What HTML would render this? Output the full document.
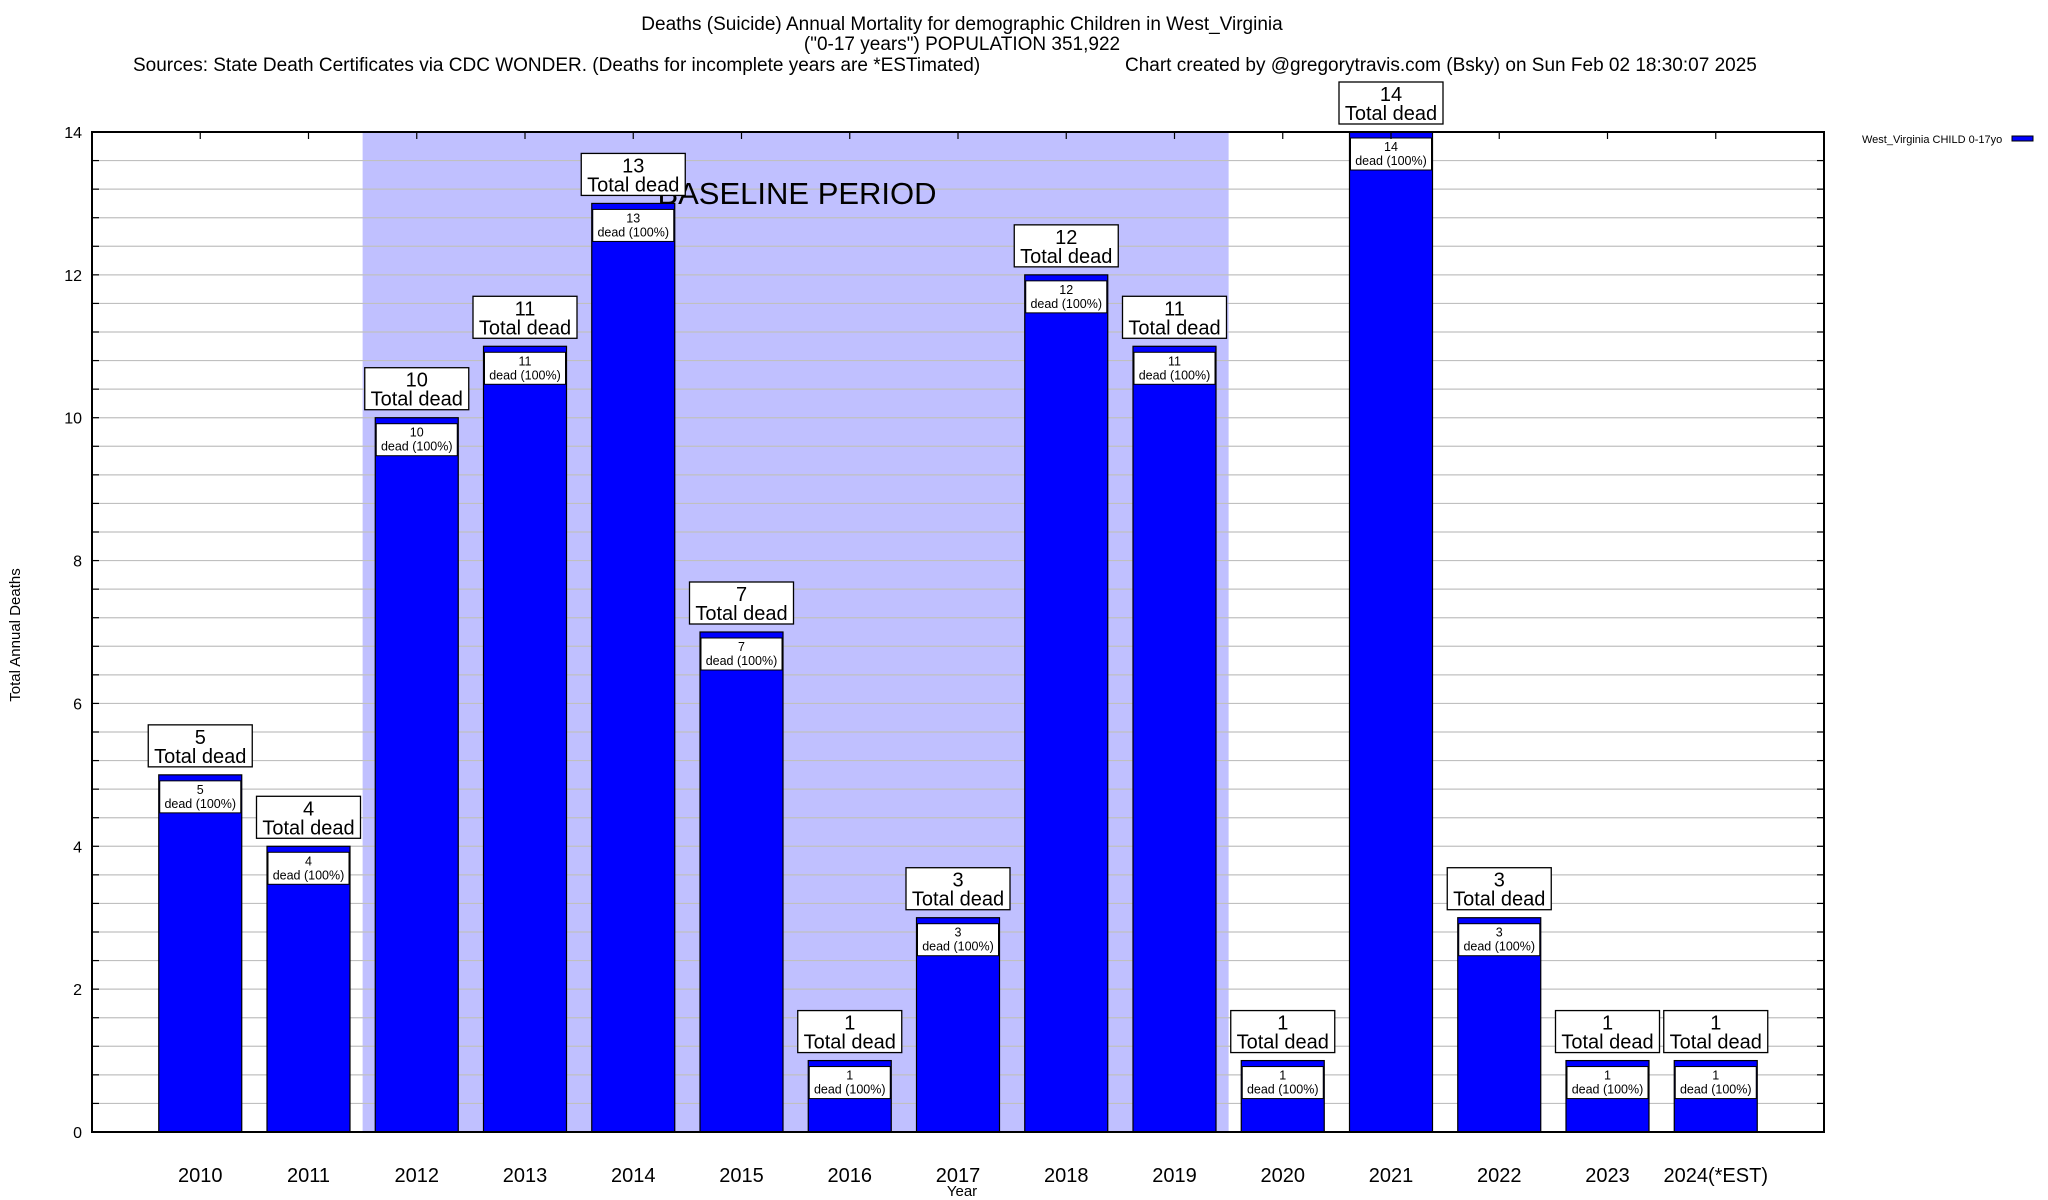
<!DOCTYPE html>
<html><head><meta charset="utf-8"><style>
body{margin:0;background:#fff;}
svg{display:block;font-family:"Liberation Sans",sans-serif;}
</style></head><body>
<svg id="chart" width="2048" height="1200" viewBox="0 0 2048 1200" xmlns="http://www.w3.org/2000/svg">
<g font-size="19" fill="#000">
<text x="962" y="30" text-anchor="middle">Deaths (Suicide) Annual Mortality for demographic Children in West_Virginia</text>
<text x="962" y="50" text-anchor="middle">("0-17 years") POPULATION 351,922</text>
<text x="133" y="71">Sources: State Death Certificates via CDC WONDER. (Deaths for incomplete years are *ESTimated)</text>
<text x="1125" y="71">Chart created by @gregorytravis.com (Bsky) on Sun Feb 02 18:30:07 2025</text>
</g>
<g id="plot"></g>
<text x="20" y="635" font-size="15" text-anchor="middle" transform="rotate(-90 20 635)">Total Annual Deaths</text>
<text x="962" y="1200" font-size="15" text-anchor="middle" dy="-4">Year</text>
<g>
<text x="1862" y="143" font-size="11">West_Virginia CHILD 0-17yo</text>
<rect x="2012" y="136" width="21" height="5" fill="#0000ff" stroke="#000" stroke-width="1"/>
</g>
</svg>
<script>
const categories = ["2010","2011","2012","2013","2014","2015","2016","2017","2018","2019","2020","2021","2022","2023","2024(*EST)"];
const deaths = [5,4,10,11,13,7,1,3,12,11,1,14,3,1,1];
const yTicks = [0,2,4,6,8,10,12,14];
const baselineStart = 1.5, baselineEnd = 9.5;

const L=92,R=1824,T=132,B=1132;
const xMin=-1,xMax=15,yMin=0,yMax=14;
const xs=v=>L+(v-xMin)/(xMax-xMin)*(R-L);
const ys=v=>B-(v-yMin)/(yMax-yMin)*(B-T);
const NS="http://www.w3.org/2000/svg";
const plot=document.getElementById('plot');
function mk(tag,attrs,parent){const e=document.createElementNS(NS,tag);for(const k in attrs)e.setAttribute(k,attrs[k]);(parent||plot).appendChild(e);return e;}

// baseline shade
let sh=mk('rect',{x:xs(baselineStart),y:T,width:xs(baselineEnd)-xs(baselineStart),height:B-T,fill:'#c0c0ff'});



// grid lines every 0.4
for(let i=1;i<35;i++){
  const v=i*0.4, y=ys(v);
  let g=mk('line',{x1:L,x2:R,y1:y,y2:y,stroke:'#c0c0c0','stroke-width':1.2});
  
  
  let t1=mk('line',{x1:L,x2:L+7,y1:y,y2:y,stroke:'#000','stroke-width':1.2});
  
  
  let t2=mk('line',{x1:R-7,x2:R,y1:y,y2:y,stroke:'#000','stroke-width':1.2});
  
  
}
yTicks.forEach(v=>{
  let t=mk('text',{x:L-10,y:ys(v)+6,'font-size':16,'text-anchor':'end'});
  t.textContent=v;
  
  
});

let bt=mk('text',{x:797,y:204,'font-size':31,'text-anchor':'middle'});
bt.textContent='BASELINE PERIOD';



const hw=41.5;
categories.forEach((c,i)=>{
  const cx=xs(i), v=deaths[i], yt=ys(v);
  const g=mk('g',{});
  
  
  mk('rect',{x:cx-hw,y:yt,width:2*hw,height:B-yt,fill:'#0000ff',stroke:'#000','stroke-width':1.2},g);
  mk('rect',{x:cx-hw+1,y:yt+6,width:2*hw-2,height:32,fill:'#fff',stroke:'#000','stroke-width':1},g);
  let a=mk('text',{x:cx,y:yt+19,'font-size':12.5,'text-anchor':'middle'},g);a.textContent=v;
  let b=mk('text',{x:cx,y:yt+33,'font-size':12.5,'text-anchor':'middle'},g);b.textContent='dead (100%)';
  const lb=mk('g',{});
  
  
  mk('rect',{x:cx-52,y:yt-50,width:104,height:42,fill:'#fff',stroke:'#000','stroke-width':1.3},lb);
  let n=mk('text',{x:cx,y:yt-31,'font-size':20,'text-anchor':'middle'},lb);n.textContent=v;
  let td=mk('text',{x:cx,y:yt-12,'font-size':20,'text-anchor':'middle'},lb);td.textContent='Total dead';
  let tk=mk('line',{x1:cx,x2:cx,y1:T,y2:T+7,stroke:'#000','stroke-width':1.2});
  
  
  let xl=mk('text',{x:cx,y:1182,'font-size':20,'text-anchor':'middle'});
  xl.textContent=c;
  
  
});
let fr=mk('rect',{x:L,y:T,width:R-L,height:B-T,fill:'none',stroke:'#000','stroke-width':2});


</script>
</body></html>
